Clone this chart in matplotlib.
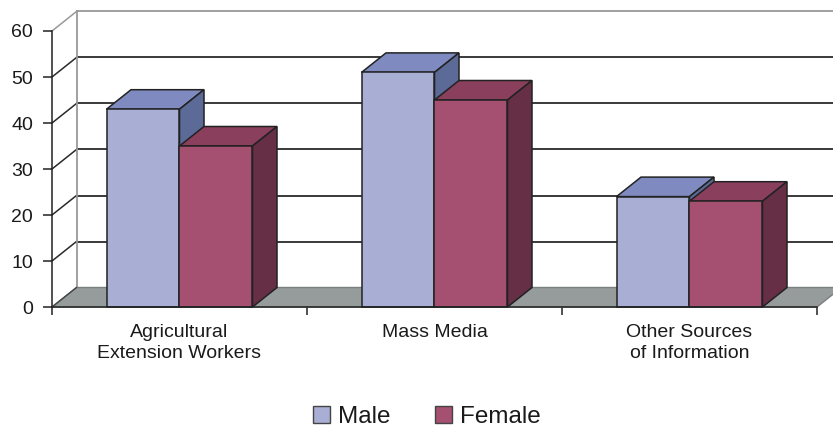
import matplotlib.pyplot as plt
from matplotlib.patches import Polygon, Patch

plt.rcParams['font.family'] = ['Liberation Sans', 'DejaVu Sans']

# data
categories = ["Agricultural\nExtension Workers", "Mass Media", "Other Sources\nof Information"]
male = [43, 51, 24]
female = [35, 45, 23]
yticks = [0, 10, 20, 30, 40, 50, 60]

# colours: front, top, side
male_cols = ['#a8aed4', '#7f8bc0', '#5b6a96']
female_cols = ['#a55070', '#8a3f5c', '#662f45']
floor_col = '#969b9b'
edge = '#222222'
txt = '#1a1a1a'

W, H = 833, 428
px_x, px_y = 255.0, 4.6          # pixels per category / per unit
x0_px, y0_px = 52, 121            # origin (from left / bottom)
DX, DY = 24.5 / px_x, 19.5 / px_y  # depth offset in data units
bw = 73 / px_x                    # bar width

fig = plt.figure(figsize=(W / 100, H / 100), dpi=100)
ax = fig.add_axes([0, 0, 1, 1])
ax.set_xlim(-x0_px / px_x, (W - x0_px) / px_x)
ax.set_ylim(-y0_px / px_y, (H - y0_px) / px_y)
ax.patch.set_visible(False)

ncat = len(categories)
xr = 3.4

# back wall gridlines and left wall diagonals
for v in yticks[1:]:
    c = '#999999' if v == yticks[-1] else '#2a2a2a'
    ax.plot([DX, xr], [v + DY, v + DY], color=c, lw=1.3, zorder=1)
    ax.plot([0, DX], [v, v + DY], color=c, lw=1.1, zorder=1)
ax.plot([DX, DX], [DY, yticks[-1] + DY], color='#999999', lw=1.3, zorder=1)

# floor
floor = Polygon([(0, 0), (ncat, 0), (ncat + DX, DY), (DX, DY)],
                closed=True, facecolor=floor_col, edgecolor='#7a7f7f', lw=1, zorder=2)
ax.add_patch(floor)
ax.plot([0, DX], [0, DY], color='#444444', lw=1, zorder=2)


def box(xa, xb, h, cols):
    front = [(xa, 0), (xb, 0), (xb, h), (xa, h)]
    top = [(xa, h), (xb, h), (xb + DX, h + DY), (xa + DX, h + DY)]
    side = [(xb, 0), (xb + DX, DY), (xb + DX, h + DY), (xb, h)]
    for pts, c in ((top, cols[1]), (side, cols[2]), (front, cols[0])):
        ax.add_patch(Polygon(pts, closed=True, facecolor=c, edgecolor=edge,
                             lw=1.1, joinstyle='miter', zorder=3))


for i in range(ncat):
    c = i + 0.5
    box(c - bw, c, male[i], male_cols)
    box(c, c + bw, female[i], female_cols)

# axes
for s in ['top', 'right']:
    ax.spines[s].set_visible(False)
ax.spines['left'].set_position(('data', 0))
ax.spines['bottom'].set_position(('data', 0))
ax.spines['left'].set_bounds(0, yticks[-1])
ax.spines['bottom'].set_bounds(0, ncat)
for s in ['left', 'bottom']:
    ax.spines[s].set_color(edge)
    ax.spines[s].set_linewidth(1.1)
    ax.spines[s].set_zorder(4)

ax.set_yticks(yticks)
ax.set_yticklabels([str(v) for v in yticks])
ax.tick_params(axis='y', direction='out', length=6.5, width=1.1, color=edge,
               labelsize=14, labelcolor=txt, pad=7)
ax.set_xticks(range(ncat + 1))
ax.set_xticklabels([])
ax.tick_params(axis='x', which='major', direction='out', length=6, width=1.1, color=edge)
ax.set_xticks([i + 0.5 for i in range(ncat)], minor=True)
ax.set_xticklabels(categories, minor=True, linespacing=1.3)
ax.tick_params(axis='x', which='minor', length=0, labelsize=14, labelcolor=txt, pad=12)

handles = [Patch(facecolor=male_cols[0], edgecolor='#444444', lw=1, label='Male'),
           Patch(facecolor=female_cols[0], edgecolor='#444444', lw=1, label='Female')]
fig.legend(handles=handles, loc='center', bbox_to_anchor=(427 / W, 11 / H), ncol=2,
           frameon=False, fontsize=17.5, handlelength=0.7, handleheight=0.7,
           handletextpad=0.35, columnspacing=1.8, labelcolor=txt)

fig.savefig('out.png', dpi=100)
